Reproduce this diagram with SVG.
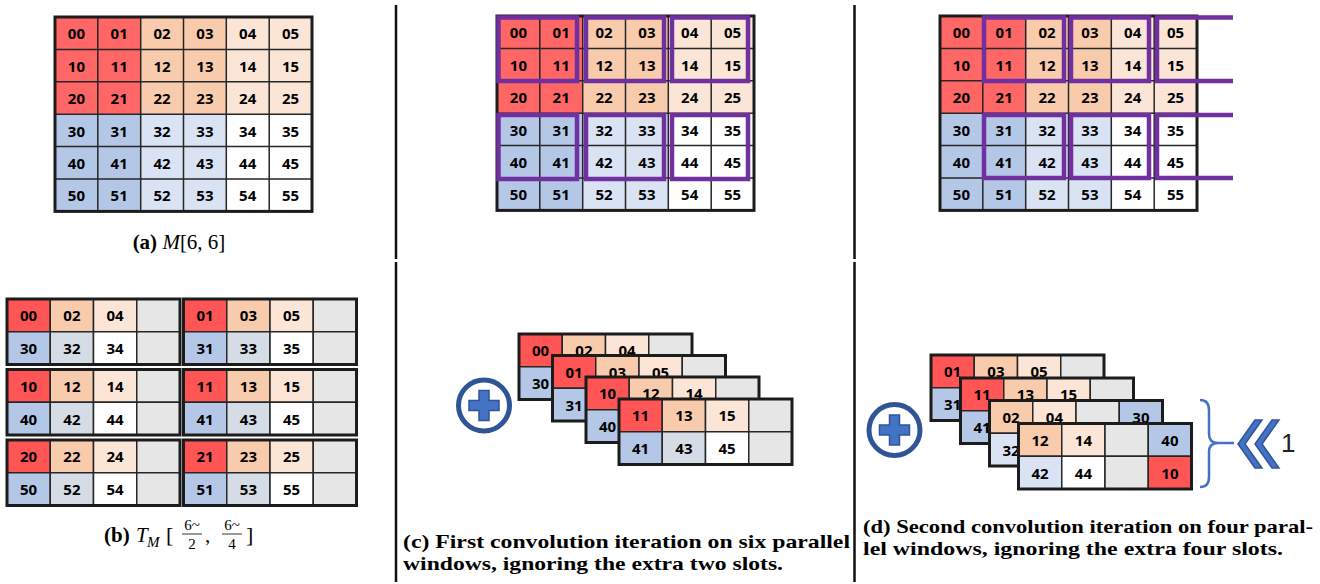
<svg xmlns="http://www.w3.org/2000/svg" width="1320" height="584" viewBox="0 0 1320 584">
<style>
.c{stroke:#262626;stroke-width:1.5}
.r{fill:#FF6666}.R{fill:#FF5555}.p{fill:#F8CBAD}.lp{fill:#FBE5D6}.b{fill:#B4C7E7}.lb{fill:#DAE3F3}.gb{fill:#D6DCE5}.w{fill:#FFFFFF}.g{fill:#E6E6E6}
.ob{fill:none;stroke:#1c1c1c;stroke-width:3}
.gl{fill:none;stroke:#262626;stroke-width:1.5}
.t{font-family:"Open Sans",sans-serif;font-weight:700;font-size:15px;text-anchor:middle;fill:#000}
.pw{fill:none;stroke:#7030A0;stroke-width:4.5}
.sep{stroke:#111;stroke-width:2.5}
.cap{font-family:"Liberation Serif",serif;font-size:19px;font-weight:700;fill:#000}
.m{font-family:"Liberation Serif",serif;font-size:21px;fill:#000}
.blue{fill:#4472C4;stroke:#2F5597;stroke-width:1.5}
</style>
<rect width="1320" height="584" fill="#fff"/>

<!-- separators -->
<g id="separators">
<line class="sep" x1="396" y1="5" x2="396" y2="259"/>
<line class="sep" x1="396" y1="262" x2="396" y2="582"/>
<line class="sep" x1="854.5" y1="5" x2="854.5" y2="259"/>
<line class="sep" x1="854.5" y1="262" x2="854.5" y2="582"/>
</g>

<!-- (a) grid -->
<g id="grid-a" transform="translate(55,17)">
<rect class="r" x="0" y="0" width="85.7" height="97.2"/>
<rect class="p" x="85.7" y="0" width="85.6" height="97.2"/>
<rect class="lp" x="171.3" y="0" width="85.7" height="97.2"/>
<rect class="b" x="0" y="97.2" width="85.7" height="97.2"/>
<rect class="lb" x="85.7" y="97.2" width="85.6" height="97.2"/>
<rect class="w" x="171.3" y="97.2" width="85.7" height="97.2"/>
<path class="gl" d="M42.8 0V194.4M85.7 0V194.4M128.5 0V194.4M171.3 0V194.4M214.2 0V194.4M0 32.4H257M0 64.8H257M0 97.2H257M0 129.6H257M0 162H257"/>
<rect class="ob" x="0" y="0" width="257" height="194.4"/>
<text class="t" x="21.4" y="22.3">00</text><text class="t" x="64.2" y="22.3">01</text><text class="t" x="107.1" y="22.3">02</text><text class="t" x="149.9" y="22.3">03</text><text class="t" x="192.7" y="22.3">04</text><text class="t" x="235.6" y="22.3">05</text>
<text class="t" x="21.4" y="54.7">10</text><text class="t" x="64.2" y="54.7">11</text><text class="t" x="107.1" y="54.7">12</text><text class="t" x="149.9" y="54.7">13</text><text class="t" x="192.7" y="54.7">14</text><text class="t" x="235.6" y="54.7">15</text>
<text class="t" x="21.4" y="87.1">20</text><text class="t" x="64.2" y="87.1">21</text><text class="t" x="107.1" y="87.1">22</text><text class="t" x="149.9" y="87.1">23</text><text class="t" x="192.7" y="87.1">24</text><text class="t" x="235.6" y="87.1">25</text>
<text class="t" x="21.4" y="119.5">30</text><text class="t" x="64.2" y="119.5">31</text><text class="t" x="107.1" y="119.5">32</text><text class="t" x="149.9" y="119.5">33</text><text class="t" x="192.7" y="119.5">34</text><text class="t" x="235.6" y="119.5">35</text>
<text class="t" x="21.4" y="151.9">40</text><text class="t" x="64.2" y="151.9">41</text><text class="t" x="107.1" y="151.9">42</text><text class="t" x="149.9" y="151.9">43</text><text class="t" x="192.7" y="151.9">44</text><text class="t" x="235.6" y="151.9">45</text>
<text class="t" x="21.4" y="184.3">50</text><text class="t" x="64.2" y="184.3">51</text><text class="t" x="107.1" y="184.3">52</text><text class="t" x="149.9" y="184.3">53</text><text class="t" x="192.7" y="184.3">54</text><text class="t" x="235.6" y="184.3">55</text>
</g>
<text id="cap-a" class="m" x="179" y="249" text-anchor="middle"><tspan font-weight="700">(a)</tspan> <tspan font-style="italic">M</tspan>[6, 6]</text>

<!-- (b) blocks -->
<g id="b-L1" transform="translate(7,299)">
<rect class="c R" x="0" y="0" width="43.25" height="32.75"/><rect class="c p" x="43.25" y="0" width="43.25" height="32.75"/><rect class="c lp" x="86.5" y="0" width="43.25" height="32.75"/><rect class="c g" x="129.75" y="0" width="43.25" height="32.75"/>
<rect class="c b" x="0" y="32.75" width="43.25" height="32.75"/><rect class="c gb" x="43.25" y="32.75" width="43.25" height="32.75"/><rect class="c w" x="86.5" y="32.75" width="43.25" height="32.75"/><rect class="c g" x="129.75" y="32.75" width="43.25" height="32.75"/>
<rect class="ob" x="0" y="0" width="173" height="65.5"/>
<text class="t" x="21.6" y="22.4">00</text><text class="t" x="64.9" y="22.4">02</text><text class="t" x="108.1" y="22.4">04</text>
<text class="t" x="21.6" y="55.2">30</text><text class="t" x="64.9" y="55.2">32</text><text class="t" x="108.1" y="55.2">34</text>
</g>
<g id="b-R1" transform="translate(183.5,299)">
<rect class="c R" x="0" y="0" width="43.25" height="32.75"/><rect class="c p" x="43.25" y="0" width="43.25" height="32.75"/><rect class="c lp" x="86.5" y="0" width="43.25" height="32.75"/><rect class="c g" x="129.75" y="0" width="43.25" height="32.75"/>
<rect class="c b" x="0" y="32.75" width="43.25" height="32.75"/><rect class="c gb" x="43.25" y="32.75" width="43.25" height="32.75"/><rect class="c w" x="86.5" y="32.75" width="43.25" height="32.75"/><rect class="c g" x="129.75" y="32.75" width="43.25" height="32.75"/>
<rect class="ob" x="0" y="0" width="173" height="65.5"/>
<text class="t" x="21.6" y="22.4">01</text><text class="t" x="64.9" y="22.4">03</text><text class="t" x="108.1" y="22.4">05</text>
<text class="t" x="21.6" y="55.2">31</text><text class="t" x="64.9" y="55.2">33</text><text class="t" x="108.1" y="55.2">35</text>
</g>
<g id="b-L2" transform="translate(7,369.5)">
<rect class="c R" x="0" y="0" width="43.25" height="32.75"/><rect class="c p" x="43.25" y="0" width="43.25" height="32.75"/><rect class="c lp" x="86.5" y="0" width="43.25" height="32.75"/><rect class="c g" x="129.75" y="0" width="43.25" height="32.75"/>
<rect class="c b" x="0" y="32.75" width="43.25" height="32.75"/><rect class="c gb" x="43.25" y="32.75" width="43.25" height="32.75"/><rect class="c w" x="86.5" y="32.75" width="43.25" height="32.75"/><rect class="c g" x="129.75" y="32.75" width="43.25" height="32.75"/>
<rect class="ob" x="0" y="0" width="173" height="65.5"/>
<text class="t" x="21.6" y="22.4">10</text><text class="t" x="64.9" y="22.4">12</text><text class="t" x="108.1" y="22.4">14</text>
<text class="t" x="21.6" y="55.2">40</text><text class="t" x="64.9" y="55.2">42</text><text class="t" x="108.1" y="55.2">44</text>
</g>
<g id="b-R2" transform="translate(183.5,369.5)">
<rect class="c R" x="0" y="0" width="43.25" height="32.75"/><rect class="c p" x="43.25" y="0" width="43.25" height="32.75"/><rect class="c lp" x="86.5" y="0" width="43.25" height="32.75"/><rect class="c g" x="129.75" y="0" width="43.25" height="32.75"/>
<rect class="c b" x="0" y="32.75" width="43.25" height="32.75"/><rect class="c gb" x="43.25" y="32.75" width="43.25" height="32.75"/><rect class="c w" x="86.5" y="32.75" width="43.25" height="32.75"/><rect class="c g" x="129.75" y="32.75" width="43.25" height="32.75"/>
<rect class="ob" x="0" y="0" width="173" height="65.5"/>
<text class="t" x="21.6" y="22.4">11</text><text class="t" x="64.9" y="22.4">13</text><text class="t" x="108.1" y="22.4">15</text>
<text class="t" x="21.6" y="55.2">41</text><text class="t" x="64.9" y="55.2">43</text><text class="t" x="108.1" y="55.2">45</text>
</g>
<g id="b-L3" transform="translate(7,440)">
<rect class="c R" x="0" y="0" width="43.25" height="32.75"/><rect class="c p" x="43.25" y="0" width="43.25" height="32.75"/><rect class="c lp" x="86.5" y="0" width="43.25" height="32.75"/><rect class="c g" x="129.75" y="0" width="43.25" height="32.75"/>
<rect class="c b" x="0" y="32.75" width="43.25" height="32.75"/><rect class="c gb" x="43.25" y="32.75" width="43.25" height="32.75"/><rect class="c w" x="86.5" y="32.75" width="43.25" height="32.75"/><rect class="c g" x="129.75" y="32.75" width="43.25" height="32.75"/>
<rect class="ob" x="0" y="0" width="173" height="65.5"/>
<text class="t" x="21.6" y="22.4">20</text><text class="t" x="64.9" y="22.4">22</text><text class="t" x="108.1" y="22.4">24</text>
<text class="t" x="21.6" y="55.2">50</text><text class="t" x="64.9" y="55.2">52</text><text class="t" x="108.1" y="55.2">54</text>
</g>
<g id="b-R3" transform="translate(183.5,440)">
<rect class="c R" x="0" y="0" width="43.25" height="32.75"/><rect class="c p" x="43.25" y="0" width="43.25" height="32.75"/><rect class="c lp" x="86.5" y="0" width="43.25" height="32.75"/><rect class="c g" x="129.75" y="0" width="43.25" height="32.75"/>
<rect class="c b" x="0" y="32.75" width="43.25" height="32.75"/><rect class="c gb" x="43.25" y="32.75" width="43.25" height="32.75"/><rect class="c w" x="86.5" y="32.75" width="43.25" height="32.75"/><rect class="c g" x="129.75" y="32.75" width="43.25" height="32.75"/>
<rect class="ob" x="0" y="0" width="173" height="65.5"/>
<text class="t" x="21.6" y="22.4">21</text><text class="t" x="64.9" y="22.4">23</text><text class="t" x="108.1" y="22.4">25</text>
<text class="t" x="21.6" y="55.2">51</text><text class="t" x="64.9" y="55.2">53</text><text class="t" x="108.1" y="55.2">55</text>
</g>
<g id="cap-b" class="m">
<text x="104" y="542" font-weight="700">(b)</text>
<text x="136" y="542" font-style="italic">T</text>
<text x="147" y="547" font-style="italic" font-size="15">M</text>
<text x="166" y="542" font-size="22">[</text>
<text x="192" y="530" font-size="15" text-anchor="middle">6~</text>
<line x1="182" y1="534" x2="202" y2="534" stroke="#000" stroke-width="0.8"/>
<text x="192" y="549" font-size="15" text-anchor="middle">2</text>
<text x="205" y="542">,</text>
<text x="232" y="530" font-size="15" text-anchor="middle">6~</text>
<line x1="222" y1="534" x2="242" y2="534" stroke="#000" stroke-width="0.8"/>
<text x="232" y="549" font-size="15" text-anchor="middle">4</text>
<text x="246" y="542" font-size="22">]</text>
</g>

<!-- (c) top grid -->
<g id="grid-c" transform="translate(497,16)">
<rect class="r" x="0" y="0" width="85.7" height="97.2"/>
<rect class="p" x="85.7" y="0" width="85.6" height="97.2"/>
<rect class="lp" x="171.3" y="0" width="85.7" height="97.2"/>
<rect class="b" x="0" y="97.2" width="85.7" height="97.2"/>
<rect class="lb" x="85.7" y="97.2" width="85.6" height="97.2"/>
<rect class="w" x="171.3" y="97.2" width="85.7" height="97.2"/>
<path class="gl" d="M42.8 0V194.4M85.7 0V194.4M128.5 0V194.4M171.3 0V194.4M214.2 0V194.4M0 32.4H257M0 64.8H257M0 97.2H257M0 129.6H257M0 162H257"/>
<rect class="ob" x="0" y="0" width="257" height="194.4"/>
<text class="t" x="21.4" y="22.3">00</text><text class="t" x="64.2" y="22.3">01</text><text class="t" x="107.1" y="22.3">02</text><text class="t" x="149.9" y="22.3">03</text><text class="t" x="192.7" y="22.3">04</text><text class="t" x="235.6" y="22.3">05</text>
<text class="t" x="21.4" y="54.7">10</text><text class="t" x="64.2" y="54.7">11</text><text class="t" x="107.1" y="54.7">12</text><text class="t" x="149.9" y="54.7">13</text><text class="t" x="192.7" y="54.7">14</text><text class="t" x="235.6" y="54.7">15</text>
<text class="t" x="21.4" y="87.1">20</text><text class="t" x="64.2" y="87.1">21</text><text class="t" x="107.1" y="87.1">22</text><text class="t" x="149.9" y="87.1">23</text><text class="t" x="192.7" y="87.1">24</text><text class="t" x="235.6" y="87.1">25</text>
<text class="t" x="21.4" y="119.5">30</text><text class="t" x="64.2" y="119.5">31</text><text class="t" x="107.1" y="119.5">32</text><text class="t" x="149.9" y="119.5">33</text><text class="t" x="192.7" y="119.5">34</text><text class="t" x="235.6" y="119.5">35</text>
<text class="t" x="21.4" y="151.9">40</text><text class="t" x="64.2" y="151.9">41</text><text class="t" x="107.1" y="151.9">42</text><text class="t" x="149.9" y="151.9">43</text><text class="t" x="192.7" y="151.9">44</text><text class="t" x="235.6" y="151.9">45</text>
<text class="t" x="21.4" y="184.3">50</text><text class="t" x="64.2" y="184.3">51</text><text class="t" x="107.1" y="184.3">52</text><text class="t" x="149.9" y="184.3">53</text><text class="t" x="192.7" y="184.3">54</text><text class="t" x="235.6" y="184.3">55</text>
</g>
<g id="windows-c">
<rect class="pw" x="498.5" y="17.5" width="78.5" height="63.5"/>
<rect class="pw" x="586" y="17.5" width="78" height="63.5"/>
<rect class="pw" x="672" y="17.5" width="76" height="63.5"/>
<rect class="pw" x="498.5" y="115" width="78.5" height="64"/>
<rect class="pw" x="586" y="115" width="78" height="64"/>
<rect class="pw" x="672" y="115" width="76" height="64"/>
</g>

<!-- (d) top grid -->
<g id="grid-d" transform="translate(940,16)">
<rect class="r" x="0" y="0" width="85.7" height="97.2"/>
<rect class="p" x="85.7" y="0" width="85.6" height="97.2"/>
<rect class="lp" x="171.3" y="0" width="85.7" height="97.2"/>
<rect class="b" x="0" y="97.2" width="85.7" height="97.2"/>
<rect class="lb" x="85.7" y="97.2" width="85.6" height="97.2"/>
<rect class="w" x="171.3" y="97.2" width="85.7" height="97.2"/>
<path class="gl" d="M42.8 0V194.4M85.7 0V194.4M128.5 0V194.4M171.3 0V194.4M214.2 0V194.4M0 32.4H257M0 64.8H257M0 97.2H257M0 129.6H257M0 162H257"/>
<rect class="ob" x="0" y="0" width="257" height="194.4"/>
<text class="t" x="21.4" y="22.3">00</text><text class="t" x="64.2" y="22.3">01</text><text class="t" x="107.1" y="22.3">02</text><text class="t" x="149.9" y="22.3">03</text><text class="t" x="192.7" y="22.3">04</text><text class="t" x="235.6" y="22.3">05</text>
<text class="t" x="21.4" y="54.7">10</text><text class="t" x="64.2" y="54.7">11</text><text class="t" x="107.1" y="54.7">12</text><text class="t" x="149.9" y="54.7">13</text><text class="t" x="192.7" y="54.7">14</text><text class="t" x="235.6" y="54.7">15</text>
<text class="t" x="21.4" y="87.1">20</text><text class="t" x="64.2" y="87.1">21</text><text class="t" x="107.1" y="87.1">22</text><text class="t" x="149.9" y="87.1">23</text><text class="t" x="192.7" y="87.1">24</text><text class="t" x="235.6" y="87.1">25</text>
<text class="t" x="21.4" y="119.5">30</text><text class="t" x="64.2" y="119.5">31</text><text class="t" x="107.1" y="119.5">32</text><text class="t" x="149.9" y="119.5">33</text><text class="t" x="192.7" y="119.5">34</text><text class="t" x="235.6" y="119.5">35</text>
<text class="t" x="21.4" y="151.9">40</text><text class="t" x="64.2" y="151.9">41</text><text class="t" x="107.1" y="151.9">42</text><text class="t" x="149.9" y="151.9">43</text><text class="t" x="192.7" y="151.9">44</text><text class="t" x="235.6" y="151.9">45</text>
<text class="t" x="21.4" y="184.3">50</text><text class="t" x="64.2" y="184.3">51</text><text class="t" x="107.1" y="184.3">52</text><text class="t" x="149.9" y="184.3">53</text><text class="t" x="192.7" y="184.3">54</text><text class="t" x="235.6" y="184.3">55</text>
</g>
<g id="windows-d">
<rect class="pw" x="984" y="17.5" width="80" height="63.5"/>
<rect class="pw" x="1071" y="17.5" width="78" height="63.5"/>
<path class="pw" d="M1233 17.5H1157V81H1233"/>
<rect class="pw" x="984" y="115" width="80" height="63"/>
<rect class="pw" x="1071" y="115" width="78" height="63"/>
<path class="pw" d="M1233 115H1157V178H1233"/>
</g>

<!-- (c) bottom -->
<g id="plus-c">
<circle cx="484" cy="405.5" r="25.5" fill="#fff" stroke="#2F5597" stroke-width="5"/>
<path class="blue" d="M479 390.5h10v10h10v10h-10v10h-10v-10h-10v-10h10z"/>
</g>
<g id="c-B1" transform="translate(519,334)">
<rect class="c R" x="0" y="0" width="43.25" height="32.75"/><rect class="c p" x="43.25" y="0" width="43.25" height="32.75"/><rect class="c lp" x="86.5" y="0" width="43.25" height="32.75"/><rect class="c g" x="129.75" y="0" width="43.25" height="32.75"/>
<rect class="c b" x="0" y="32.75" width="43.25" height="32.75"/><rect class="c gb" x="43.25" y="32.75" width="43.25" height="32.75"/><rect class="c w" x="86.5" y="32.75" width="43.25" height="32.75"/><rect class="c g" x="129.75" y="32.75" width="43.25" height="32.75"/>
<rect class="ob" x="0" y="0" width="173" height="65.5"/>
<text class="t" x="21.6" y="22.4">00</text><text class="t" x="64.9" y="22.4">02</text><text class="t" x="108.1" y="22.4">04</text>
<text class="t" x="21.6" y="55.2">30</text>
</g>
<g id="c-B2" transform="translate(552.5,355.5)">
<rect class="c R" x="0" y="0" width="43.25" height="32.75"/><rect class="c p" x="43.25" y="0" width="43.25" height="32.75"/><rect class="c lp" x="86.5" y="0" width="43.25" height="32.75"/><rect class="c g" x="129.75" y="0" width="43.25" height="32.75"/>
<rect class="c b" x="0" y="32.75" width="43.25" height="32.75"/><rect class="c gb" x="43.25" y="32.75" width="43.25" height="32.75"/><rect class="c w" x="86.5" y="32.75" width="43.25" height="32.75"/><rect class="c g" x="129.75" y="32.75" width="43.25" height="32.75"/>
<rect class="ob" x="0" y="0" width="173" height="65.5"/>
<text class="t" x="21.6" y="22.4">01</text><text class="t" x="64.9" y="22.4">03</text><text class="t" x="108.1" y="22.4">05</text>
<text class="t" x="21.6" y="55.2">31</text>
</g>
<g id="c-B3" transform="translate(586,377)">
<rect class="c R" x="0" y="0" width="43.25" height="32.75"/><rect class="c p" x="43.25" y="0" width="43.25" height="32.75"/><rect class="c lp" x="86.5" y="0" width="43.25" height="32.75"/><rect class="c g" x="129.75" y="0" width="43.25" height="32.75"/>
<rect class="c b" x="0" y="32.75" width="43.25" height="32.75"/><rect class="c gb" x="43.25" y="32.75" width="43.25" height="32.75"/><rect class="c w" x="86.5" y="32.75" width="43.25" height="32.75"/><rect class="c g" x="129.75" y="32.75" width="43.25" height="32.75"/>
<rect class="ob" x="0" y="0" width="173" height="65.5"/>
<text class="t" x="21.6" y="22.4">10</text><text class="t" x="64.9" y="22.4">12</text><text class="t" x="108.1" y="22.4">14</text>
<text class="t" x="21.6" y="55.2">40</text>
</g>
<g id="c-B4" transform="translate(619,399)">
<rect class="c R" x="0" y="0" width="43.25" height="32.75"/><rect class="c p" x="43.25" y="0" width="43.25" height="32.75"/><rect class="c lp" x="86.5" y="0" width="43.25" height="32.75"/><rect class="c g" x="129.75" y="0" width="43.25" height="32.75"/>
<rect class="c b" x="0" y="32.75" width="43.25" height="32.75"/><rect class="c gb" x="43.25" y="32.75" width="43.25" height="32.75"/><rect class="c w" x="86.5" y="32.75" width="43.25" height="32.75"/><rect class="c g" x="129.75" y="32.75" width="43.25" height="32.75"/>
<rect class="ob" x="0" y="0" width="173" height="65.5"/>
<text class="t" x="21.6" y="22.4">11</text><text class="t" x="64.9" y="22.4">13</text><text class="t" x="108.1" y="22.4">15</text>
<text class="t" x="21.6" y="55.2">41</text><text class="t" x="64.9" y="55.2">43</text><text class="t" x="108.1" y="55.2">45</text>
</g>
<g id="cap-c" class="cap">
<text x="403" y="548" textLength="447" lengthAdjust="spacingAndGlyphs">(c) First convolution iteration on six parallel</text>
<text x="403" y="570" textLength="380" lengthAdjust="spacingAndGlyphs">windows, ignoring the extra two slots.</text>
</g>

<!-- (d) bottom -->
<g id="plus-d">
<circle cx="894.5" cy="430" r="25.5" fill="#fff" stroke="#2F5597" stroke-width="5"/>
<path class="blue" d="M889.5 415h10v10h10v10h-10v10h-10v-10h-10v-10h10z"/>
</g>
<g id="d-B1" transform="translate(931,355)">
<rect class="c R" x="0" y="0" width="43.25" height="32.75"/><rect class="c p" x="43.25" y="0" width="43.25" height="32.75"/><rect class="c lp" x="86.5" y="0" width="43.25" height="32.75"/><rect class="c g" x="129.75" y="0" width="43.25" height="32.75"/>
<rect class="c b" x="0" y="32.75" width="43.25" height="32.75"/><rect class="c gb" x="43.25" y="32.75" width="43.25" height="32.75"/><rect class="c w" x="86.5" y="32.75" width="43.25" height="32.75"/><rect class="c g" x="129.75" y="32.75" width="43.25" height="32.75"/>
<rect class="ob" x="0" y="0" width="173" height="65.5"/>
<text class="t" x="21.6" y="22.4">01</text><text class="t" x="64.9" y="22.4">03</text><text class="t" x="108.1" y="22.4">05</text>
<text class="t" x="21.6" y="55.2">31</text>
</g>
<g id="d-B2" transform="translate(960.5,378)">
<rect class="c R" x="0" y="0" width="43.25" height="32.75"/><rect class="c p" x="43.25" y="0" width="43.25" height="32.75"/><rect class="c lp" x="86.5" y="0" width="43.25" height="32.75"/><rect class="c g" x="129.75" y="0" width="43.25" height="32.75"/>
<rect class="c b" x="0" y="32.75" width="43.25" height="32.75"/><rect class="c gb" x="43.25" y="32.75" width="43.25" height="32.75"/><rect class="c w" x="86.5" y="32.75" width="43.25" height="32.75"/><rect class="c g" x="129.75" y="32.75" width="43.25" height="32.75"/>
<rect class="ob" x="0" y="0" width="173" height="65.5"/>
<text class="t" x="21.6" y="22.4">11</text><text class="t" x="64.9" y="22.4">13</text><text class="t" x="108.1" y="22.4">15</text>
<text class="t" x="21.6" y="55.2">41</text>
</g>
<g id="d-B3" transform="translate(989.5,400.5)">
<rect class="c p" x="0" y="0" width="43.25" height="32.75"/><rect class="c lp" x="43.25" y="0" width="43.25" height="32.75"/><rect class="c g" x="86.5" y="0" width="43.25" height="32.75"/><rect class="c b" x="129.75" y="0" width="43.25" height="32.75"/>
<rect class="c lb" x="0" y="32.75" width="43.25" height="32.75"/><rect class="c w" x="43.25" y="32.75" width="43.25" height="32.75"/><rect class="c g" x="86.5" y="32.75" width="43.25" height="32.75"/><rect class="c R" x="129.75" y="32.75" width="43.25" height="32.75"/>
<rect class="ob" x="0" y="0" width="173" height="65.5"/>
<text class="t" x="21.6" y="22.4">02</text><text class="t" x="64.9" y="22.4">04</text><text class="t" x="151.4" y="22.4">30</text>
<text class="t" x="21.6" y="55.2">32</text>
</g>
<g id="d-B4" transform="translate(1018.5,423.5)">
<rect class="c p" x="0" y="0" width="43.25" height="32.75"/><rect class="c lp" x="43.25" y="0" width="43.25" height="32.75"/><rect class="c g" x="86.5" y="0" width="43.25" height="32.75"/><rect class="c b" x="129.75" y="0" width="43.25" height="32.75"/>
<rect class="c lb" x="0" y="32.75" width="43.25" height="32.75"/><rect class="c w" x="43.25" y="32.75" width="43.25" height="32.75"/><rect class="c g" x="86.5" y="32.75" width="43.25" height="32.75"/><rect class="c R" x="129.75" y="32.75" width="43.25" height="32.75"/>
<rect class="ob" x="0" y="0" width="173" height="65.5"/>
<text class="t" x="21.6" y="22.4">12</text><text class="t" x="64.9" y="22.4">14</text><text class="t" x="151.4" y="22.4">40</text>
<text class="t" x="21.6" y="55.2">42</text><text class="t" x="64.9" y="55.2">44</text><text class="t" x="151.4" y="55.2">10</text>
</g>
<g id="rotate-mark">
<path d="M1200 400Q1209 400 1209 410V434Q1209 443 1218 443H1234M1218 443Q1209 443 1209 452V477Q1209 487 1200 487" fill="none" stroke="#4472C4" stroke-width="2.5"/>
<polygon class="blue" stroke-width="1" points="1255,420 1262,420 1245,444 1262,468 1255,468 1238,444"/>
<polygon class="blue" stroke-width="1" points="1272,420 1279,420 1262,444 1279,468 1272,468 1255,444"/>
<text x="1281" y="452" font-family="Liberation Sans, sans-serif" font-size="26" fill="#222">1</text>
</g>
<g id="cap-d" class="cap">
<text x="863" y="533" textLength="450" lengthAdjust="spacingAndGlyphs">(d) Second convolution iteration on four paral-</text>
<text x="863" y="555" textLength="420" lengthAdjust="spacingAndGlyphs">lel windows, ignoring the extra four slots.</text>
</g>
</svg>
